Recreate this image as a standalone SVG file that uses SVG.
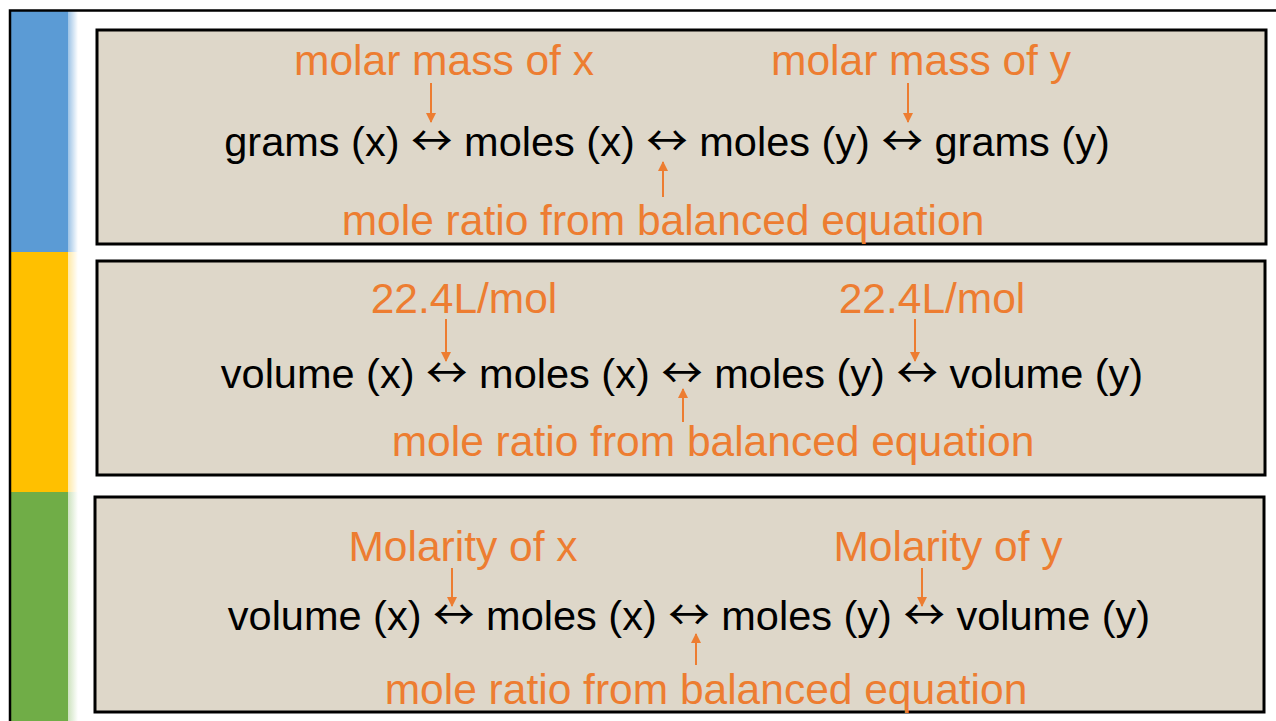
<svg xmlns="http://www.w3.org/2000/svg" width="1276" height="721" viewBox="0 0 1276 721">
  <defs>
    <style>
      .panel { fill: #ded7c9; stroke: #000; stroke-width: 3; }
      .main { font-family: "Liberation Sans", Arial, sans-serif; font-size: 41.5px; fill: #000; text-anchor: middle; }
      .lbl { font-family: "Liberation Sans", Arial, sans-serif; font-size: 42.5px; fill: #ED7D31; text-anchor: middle; }
      .la { font-family: "Noto Sans CJK JP", "DejaVu Sans", sans-serif; }
      .arr { stroke: #ED7D31; stroke-width: 2; fill: none; marker-end: url(#ah); }
      .frame { stroke: #000; stroke-width: 2.5; fill: none; }
    </style>
    <marker id="ah" viewBox="0 0 10 10" refX="9" refY="5" markerWidth="5" markerHeight="5" orient="auto" markerUnits="strokeWidth">
      <path d="M0,0 L10,5 L0,10 z" fill="#ED7D31"/>
    </marker>
    <linearGradient id="gb" x1="0" x2="1" y1="0" y2="0">
      <stop offset="0" stop-color="#5B9BD5" stop-opacity="0.6"/>
      <stop offset="1" stop-color="#5B9BD5" stop-opacity="0"/>
    </linearGradient>
    <linearGradient id="gy" x1="0" x2="1" y1="0" y2="0">
      <stop offset="0" stop-color="#FFC000" stop-opacity="0.35"/>
      <stop offset="1" stop-color="#FFC000" stop-opacity="0"/>
    </linearGradient>
    <linearGradient id="gg" x1="0" x2="1" y1="0" y2="0">
      <stop offset="0" stop-color="#70AD47" stop-opacity="0.35"/>
      <stop offset="1" stop-color="#70AD47" stop-opacity="0"/>
    </linearGradient>
  </defs>
  <rect x="0" y="0" width="1276" height="721" fill="#fff"/>

  <g id="sidebar">
    <rect x="11" y="11" width="57" height="241" fill="#5B9BD5"/>
    <rect x="68" y="11" width="10" height="241" fill="url(#gb)"/>
    <rect x="11" y="252" width="57" height="240" fill="#FFC000"/>
    <rect x="68" y="252" width="10" height="240" fill="url(#gy)"/>
    <rect x="11" y="492" width="57" height="229" fill="#70AD47"/>
    <rect x="68" y="492" width="10" height="229" fill="url(#gg)"/>
    <path class="frame" d="M10,721 L10,10.5 L1276,10.5"/>
  </g>

  <g id="panel-mass">
    <rect class="panel" x="97" y="30" width="1169" height="214"/>
    <g id="mass-main"><text class="main" x="667" y="156">grams (x) <tspan class="la">↔</tspan> moles (x) <tspan class="la">↔</tspan> moles (y) <tspan class="la">↔</tspan> grams (y)</text></g>
    <g id="mass-molar-x"><text class="lbl" x="444" y="75">molar mass of x</text></g>
    <g id="mass-molar-y"><text class="lbl" x="921" y="75">molar mass of y</text></g>
    <g id="mass-ratio"><text class="lbl" x="663" y="235">mole ratio from balanced equation</text></g>
  </g>

  <g id="panel-volume">
    <rect class="panel" x="97" y="261" width="1168" height="214"/>
    <g id="vol-main"><text class="main" x="682" y="388">volume (x) <tspan class="la">↔</tspan> moles (x) <tspan class="la">↔</tspan> moles (y) <tspan class="la">↔</tspan> volume (y)</text></g>
    <g id="vol-molar-x"><text class="lbl" x="464" y="313">22.4L/mol</text></g>
    <g id="vol-molar-y"><text class="lbl" x="932" y="313">22.4L/mol</text></g>
    <g id="vol-ratio"><text class="lbl" x="713" y="456">mole ratio from balanced equation</text></g>
  </g>

  <g id="panel-solution">
    <rect class="panel" x="95" y="497" width="1169" height="215"/>
    <g id="sol-main"><text class="main" x="689" y="630">volume (x) <tspan class="la">↔</tspan> moles (x) <tspan class="la">↔</tspan> moles (y) <tspan class="la">↔</tspan> volume (y)</text></g>
    <g id="sol-molarity-x"><text class="lbl" x="463" y="561">Molarity of x</text></g>
    <g id="sol-molarity-y"><text class="lbl" x="948" y="561">Molarity of y</text></g>
    <g id="sol-ratio"><text class="lbl" x="706" y="704">mole ratio from balanced equation</text></g>
  </g>

  <g id="connectors">
    <line class="arr" x1="431" y1="83" x2="431" y2="122"/>
    <line class="arr" x1="908" y1="83" x2="908" y2="122"/>
    <line class="arr" x1="663" y1="197" x2="663" y2="162"/>
    <line class="arr" x1="446" y1="319" x2="446" y2="361"/>
    <line class="arr" x1="915" y1="319" x2="915" y2="361"/>
    <line class="arr" x1="683" y1="422" x2="683" y2="389"/>
    <line class="arr" x1="452" y1="568" x2="452" y2="606"/>
    <line class="arr" x1="922" y1="568" x2="922" y2="606"/>
    <line class="arr" x1="696" y1="665" x2="696" y2="634"/>
  </g>
</svg>
